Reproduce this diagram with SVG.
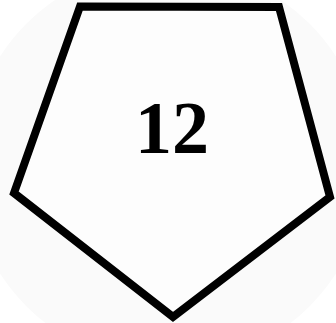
<svg xmlns="http://www.w3.org/2000/svg" width="336" height="323" viewBox="0 0 336 323">
<style>
.shape{fill:#fdfdfd;stroke:#000;stroke-width:8;stroke-linejoin:miter}
.lbl{font-family:"Liberation Serif",serif;font-weight:bold;font-size:74px;text-anchor:middle;fill:#000}
</style>
<rect width="336" height="323" fill="#ffffff"/>
<circle cx="168" cy="165" r="200" fill="#fafafa"/>
<g id="node-pentagon">
<polygon class="shape" points="80,6.5 279,7 330,197 173,317 14,193"/>
<text class="lbl" x="172" y="153">12</text>
</g>
</svg>
